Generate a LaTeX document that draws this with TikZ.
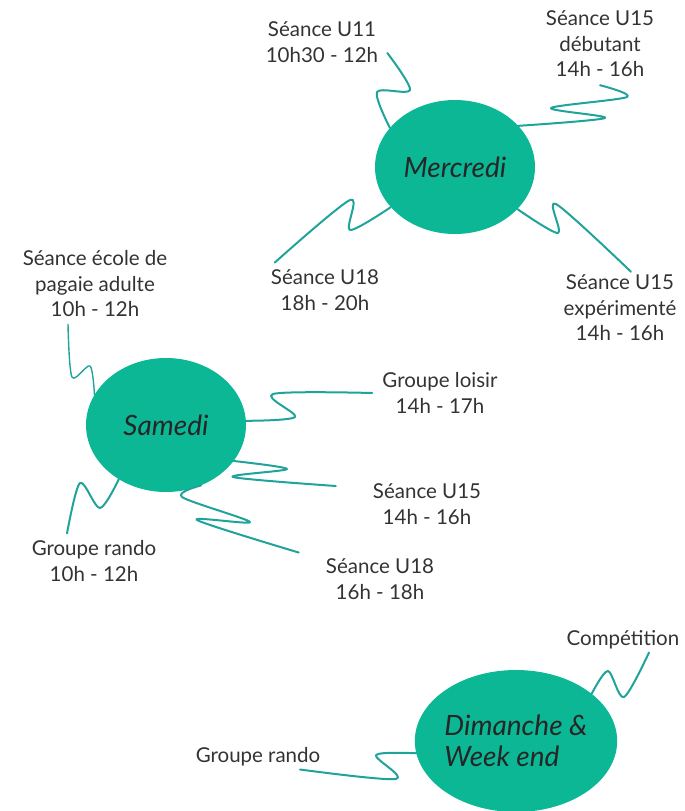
\documentclass[tikz,border=0pt]{standalone}
\usepackage{fontspec}
\setmainfont{Lato}
\usetikzlibrary{shapes.geometric}
\definecolor{dayfill}{RGB}{12,183,150}
\definecolor{wavecol}{RGB}{31,163,155}
\definecolor{txtcol}{RGB}{51,51,51}
\begin{document}
\begin{tikzpicture}[x=1pt,y=-1pt,
    day/.style={ellipse,fill=dayfill,inner sep=0pt,minimum width=160pt,minimum height=134pt,
      font=\fontsize{28}{31}\selectfont\itshape,text=black!85},
    lbl/.style={align=center,inner sep=3pt,text=txtcol,font=\fontsize{20.5}{25.5}\selectfont},
    wave/.style={draw=wavecol,line width=2pt,line cap=round,line join=round}]
  \useasboundingbox (0,0) rectangle (685,811);
  \draw
    (455,167) node[day] (mer){Mercredi}
    (166,425) node[day] (sam){Samedi}
    (516,741) node[day,minimum width=202pt,minimum height=142pt,align=left] (dim){Dimanche \&\\Week end}
    (322,42) node[lbl] (m1){Séance U11\\10h30 - 12h}
    (600,44) node[lbl] (m2){Séance U15\\débutant\\14h - 16h}
    (325,290) node[lbl] (m3){Séance U18\\18h - 20h}
    (620,308) node[lbl] (m4){Séance U15\\expérimenté\\14h - 16h}
    (95,284) node[lbl] (s1){Séance école de\\pagaie adulte\\10h - 12h}
    (440,393) node[lbl] (s2){Groupe loisir\\14h - 17h}
    (427,504) node[lbl] (s3){Séance U15\\14h - 16h}
    (380,579) node[lbl] (s4){Séance U18\\16h - 18h}
    (94,561) node[lbl] (s5){Groupe rando\\10h - 12h}
    (623,640) node[lbl] (d1){Compétition}
    (258,757) node[lbl] (d2){Groupe rando};
  \begin{scope}[wave]
    \draw plot[smooth] coordinates {([shift={(6,11)}]m1.east) (410,90) (377,92) (mer.149)};
    \draw plot[smooth] coordinates {([yshift=-5pt]m2.south) (627,97) (551,108) (605,118) (mer.33)};
    \draw plot[smooth] coordinates {(mer.212) (350,230) (350,200) ([shift={(7,-4)}]m3.north west)};
    \draw plot[smooth] coordinates {(mer.326) (558,233) (556,204) ([xshift=11pt]m4.north)};
    \draw[line width=1.4pt] plot[smooth] coordinates {([shift={(-27,4)}]s1.south) (72,377) (90,366) (sam.157)};
    \draw plot[smooth] coordinates {(sam.3) (295,417) (273,394) ([xshift=-7pt]s2.west)};
    \draw plot[smooth] coordinates {(sam.332) (287,469) (233,477) ([shift={(-34,-18)}]s3.west)};
    \draw plot[smooth] coordinates {(sam.300) (182,497) (250,522) (197,520) ([shift={(-24,-3)}]s4.north west)};
    \draw plot[smooth] coordinates {(sam.229) (100,508) (80,483) ([shift={(-27,-4)}]s5.north)};
    \draw plot[smooth] coordinates {([xshift=26pt]d1.south) (624,697) (608,671) (dim.32)};
    \draw plot[smooth] coordinates {(dim.187) (376,755) (396,779) ([xshift=42pt]d2.south)};
  \end{scope}
\end{tikzpicture}
\end{document}
